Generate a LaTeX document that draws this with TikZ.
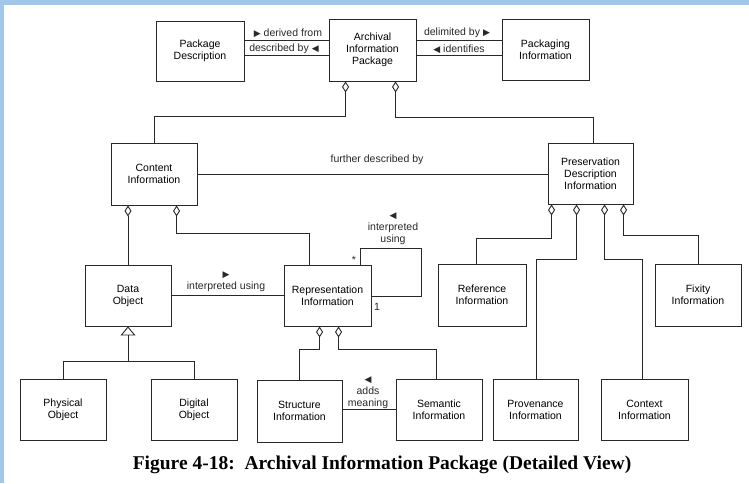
\documentclass[tikz,border=0pt]{standalone}
\usepackage{fontspec}
\setmainfont{Liberation Sans}
\newfontfamily\capfont{Liberation Serif}
\newfontfamily\symfont{DejaVu Sans}
\usetikzlibrary{arrows.meta,calc}
\definecolor{bordblue}{RGB}{160,198,232}
\definecolor{ink}{RGB}{40,40,40}
\newcommand\rtri{{\symfont\fontsize{9}{9}\selectfont ▶}}
\newcommand\ltri{{\symfont\fontsize{9}{9}\selectfont ◀}}
\newcommand\mybox[6]{\node[box,minimum width={(#4)-(#2)},minimum height={(#5)-(#3)}] (#1) at ({((#2)+(#4))/2},{((#3)+(#5))/2}) {#6};}
\begin{document}
\begin{tikzpicture}[x=1pt,y=-1pt,
  box/.style={draw=ink,line width=0.9pt,fill=white,align=center,font=\fontsize{10.5}{12}\selectfont,inner sep=0pt},
  conn/.style={draw=ink,line width=0.9pt},
  agg/.style={conn,{Diamond[open,length=11pt,width=7pt,line width=0.9pt]}-},
  gen/.style={conn,{Triangle[open,length=9pt,width=15pt,line width=0.9pt]}-},
  lbl/.style={font=\fontsize{10.5}{12}\selectfont,inner sep=0pt,align=center,text=ink},
  capstyle/.style={font=\capfont\bfseries\fontsize{19.5}{22}\selectfont,inner sep=0pt}]
\fill[white] (0,0) rectangle (749,483);
\fill[bordblue] (0,0) rectangle (749,5);
\fill[bordblue] (0,0) rectangle (4,483);
\useasboundingbox (0,0) rectangle (749,483);

\mybox{pd}{156}{21}{244}{81}{Package\\Description}
\mybox{aip}{329}{19}{416}{81}{Archival\\Information\\Package}
\mybox{pi}{502}{19}{589}{80}{Packaging\\Information}
\mybox{ci}{111}{143}{197}{205}{Content\\Information}
\mybox{pdi}{548}{143}{633}{204}{Preservation\\Description\\Information}
\mybox{do}{85}{265}{171}{326}{Data\\Object}
\mybox{ri}{284}{265}{371}{326}{Representation\\Information}
\mybox{ref}{438}{264}{526}{326}{Reference\\Information}
\mybox{fix}{655}{264}{741}{326}{Fixity\\Information}
\mybox{phys}{20}{379}{106}{440}{Physical\\Object}
\mybox{dig}{151}{379}{237}{440}{Digital\\Object}
\mybox{str}{257}{380}{342}{442}{Structure\\Information}
\mybox{sem}{396}{379}{482}{440}{Semantic\\Information}
\mybox{prov}{493}{379}{578}{440}{Provenance\\Information}
\mybox{ctx}{601}{379}{688}{440}{Context\\Information}

% top associations
\draw[conn] ($(pd.north east)+(0,20)$) -- ($(aip.north west)+(0,22)$);
\draw[conn] ($(pd.north east)+(0,35)$) -- ($(aip.north west)+(0,37)$);
\draw[conn] ($(aip.north east)+(0,22)$) -- ($(pi.north west)+(0,22)$);
\draw[conn] ($(aip.north east)+(0,37)$) -- ($(pi.north west)+(0,37)$);
\node[lbl] (l1) at (288,33) {\rtri\ derived from};
\node[lbl] (l2) at (284,49) {described by \ltri};
\node[lbl] (l3) at (457,33) {delimited by \rtri};
\node[lbl] (l4) at (459,49) {\ltri\ identifies};

% aggregation from AIP
\draw[agg] ($(aip.south west)+(17,0)$) -- ++(0,35) -| (ci.north);
\draw[agg] ($(aip.south west)+(67,0)$) -- ++(0,36) -| ($(pdi.north)+(2.5,0)$);

% further described by
\draw[conn] (ci.east) -- (ci.east -| pdi.west);
\node[lbl] (l5) at (377,160) {further described by};

% content information parts
\draw[agg] (do.north |- ci.south) -- (do.north);
\draw[agg] ($(ci.south west)+(66,0)$) -- ++(0,28) -| ($(ri.north west)+(26,0)$);

% data object interpreted using RI
\draw[conn] (do.east) -- (ri.west);
\node[lbl] (l6) at (226,282) {\rtri\\interpreted using};

% self loop on RI
\draw[conn] ($(ri.north west)+(77,0)$) -- ++(0,-16) -- ++(61,0) |- ($(ri.north east)+(0,32)$);
\node[lbl] (l7) at (393,229) {\ltri\\interpreted\\using};
\node[lbl] (m1) at (354,260) {*};
\node[lbl] (m2) at (377,307) {1};

% RI parts
\draw[agg] ($(ri.south west)+(36,0)$) -- ++(0,23) -| (str.north);
\draw[agg] ($(ri.south west)+(55,0)$) -- ++(0,23) -| ($(sem.north west)+(41,0)$);
\draw[conn] ($(str.north east)+(0,30)$) -- ($(sem.north west)+(0,31)$);
\node[lbl] (l8) at (368,393) {\ltri\\adds\\meaning};

% generalization
\draw[gen] (do.south) -- ++(0,35) coordinate (gj);
\draw[conn] (phys.north) |- (gj) -| (dig.north);

% PDI parts
\draw[agg] ($(pdi.south west)+(4,0)$) -- ++(0,34) -| ($(ref.north west)+(39,0)$);
\draw[agg] ($(pdi.south west)+(29,0)$) -- ++(0,55) -| ($(prov.north west)+(44,0)$);
\draw[agg] ($(pdi.south west)+(57,0)$) -- ++(0,55) -| ($(ctx.north west)+(42,0)$);
\draw[agg] ($(pdi.south west)+(76,0)$) -- ++(0,31) -| ($(fix.north west)+(44,0)$);

\node[capstyle] (cap) at (382,465) {Figure 4-18:\ \ Archival Information Package (Detailed View)};
\end{tikzpicture}
\end{document}
